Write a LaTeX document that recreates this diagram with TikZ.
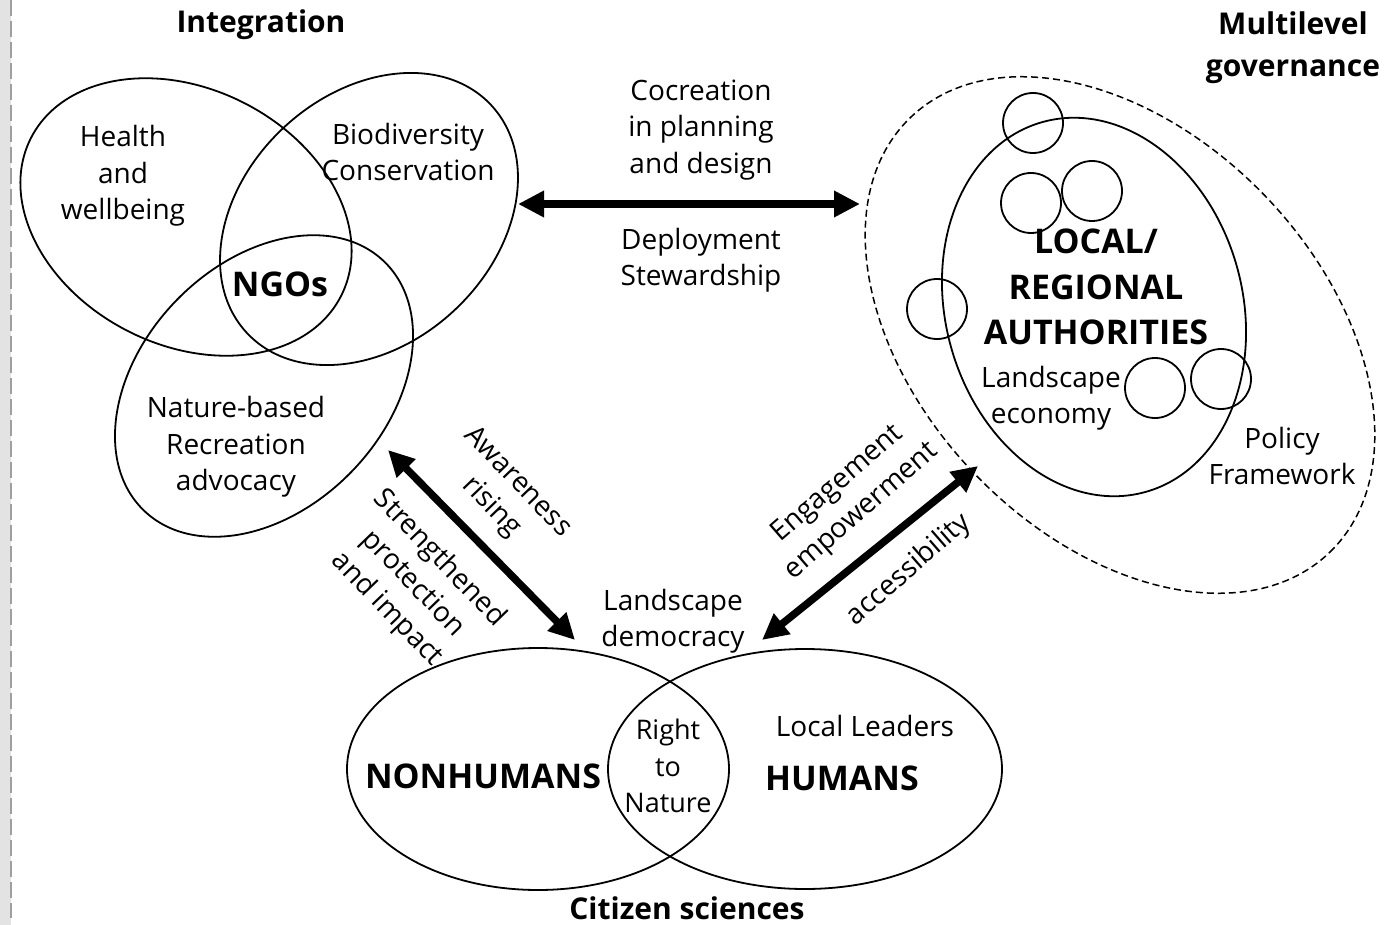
\documentclass[tikz,border=0pt]{standalone}
\usepackage{fontspec}
\setmainfont{Open Sans}
\usetikzlibrary{positioning,arrows.meta,shapes.geometric}

\newcommand{\bodyfont}{\fontsize{28}{36.5}\selectfont}
\newcommand{\titlefont}{\fontsize{30}{42}\selectfont\bfseries}
\newcommand{\bigfont}{\fontsize{34}{45.5}\selectfont\bfseries}

\begin{document}
\begin{tikzpicture}[x=1pt,y=-1pt,
  set/.style={ellipse,draw,line width=1.8pt,inner sep=0pt},
  govset/.style={ellipse,draw,line width=1.5pt,dash pattern=on 7pt off 4pt,inner sep=0pt},
  blob/.style={circle,draw,line width=1.8pt,minimum size=60pt,inner sep=0pt},
  txt/.style={font=\bodyfont,align=center,inner sep=0pt},
  title/.style={font=\titlefont,align=center,inner sep=0pt},
  big/.style={font=\bigfont,align=center,inner sep=0pt},
  twoway/.style={{Triangle[length=26pt,width=25pt]}-{Triangle[length=26pt,width=25pt]},
                 line width=7.5pt}]

\useasboundingbox (0,0) rectangle (1394,925);
\fill[gray!22] (0,0) rectangle (11,925);
\draw[gray!75,line width=1.5pt,dash pattern=on 16pt off 5pt] (11,0) -- (11,918);

% ============ Integration: three overlapping sets ============
\node[set,minimum width=348pt,minimum height=256pt,rotate=-27] (health) at (186,217) {};
\node[set,minimum width=334pt,minimum height=250pt,rotate=43]  (biodiv) at (369,219) {};
\node[set,minimum width=346pt,minimum height=245pt,rotate=46]  (nature) at (264,386) {};
\node[txt] (healthtxt) at (123,176) {Health\\and\\wellbeing};
\node[txt] (biotxt)    at (408,152) {Biodiversity\\Conservation};
\node[txt] (naturetxt) at (236,447) {Nature-based\\Recreation\\advocacy};
\node[big] (ngos)      at (280,284) {NGOs};
\node[title] (integration) at (261,25) {Integration};

% ============ Multilevel governance ============
\node[govset,minimum width=604pt,minimum height=402pt,rotate=-46] (gov) at (1120,335) {};
\node[set,minimum width=297pt,minimum height=384pt,rotate=15.5] (local) at (1094,307) {};
\foreach \name/\cx/\cy in {g1/1033/123, g2/1031/203, g3/1092/191,
                           g4/937/309, g5/1155/388, g6/1221/379}
  \node[blob] (\name) at (\cx,\cy) {};
\node[big] (localtxt)  at (1096,287) {LOCAL/\\REGIONAL\\AUTHORITIES};
\node[txt] (landeco)   at (1051,398) {Landscape\\economy};
\node[txt] (policy)    at (1282,456) {Policy\\Framework};
\node[title] (multilevel) at (1293,48) {Multilevel\\governance};

% ============ Citizen sciences: two sets ============
\node[set,minimum width=382pt,minimum height=242pt] (nonhum) at (538,769) {};
\node[set,minimum width=394pt,minimum height=240pt] (hum)    at (805,769) {};
\node[big] (nonhumtxt) at (483,776) {NONHUMANS};
\node[big] (humtxt)    at (842,778) {HUMANS};
\node[txt,font=\fontsize{27}{36.5}\selectfont] (righttxt) at (668,766) {Right\\to\\Nature};
\node[txt] (leaders)   at (865,726) {Local Leaders};
\node[title] (citizen) at (687,908) {Citizen sciences};
\node[txt] (democracy) at (673,621) {Landscape\\democracy};

% ============ links ============
\coordinate (bioport)    at (518,204);
\coordinate (govport)    at (860,204);
\coordinate (natureport) at (388,450);
\coordinate (democL)     at (575,640);
\coordinate (govlow)     at (978,466);
\coordinate (democR)     at (762,640);
\draw[twoway] (bioport) -- (govport);
\draw[twoway] (natureport) -- (democL);
\draw[twoway] (govlow) -- (democR);
\node[txt] (cocreation) at (701,130) {Cocreation\\in planning\\and design};
\node[txt] (deploy)     at (701,260) {Deployment\\Stewardship};
\node[txt,rotate=-46] (aware)    at (504,495) {Awareness\\rising};
\node[txt,rotate=-46] (strength) at (413,584) {Strengthened\\protection\\and impact};
\node[txt,rotate=41]  (engage)   at (850,498) {Engagement\\empowerment};
\node[txt,rotate=41]  (access)   at (909,570) {accessibility};

\end{tikzpicture}
\end{document}
